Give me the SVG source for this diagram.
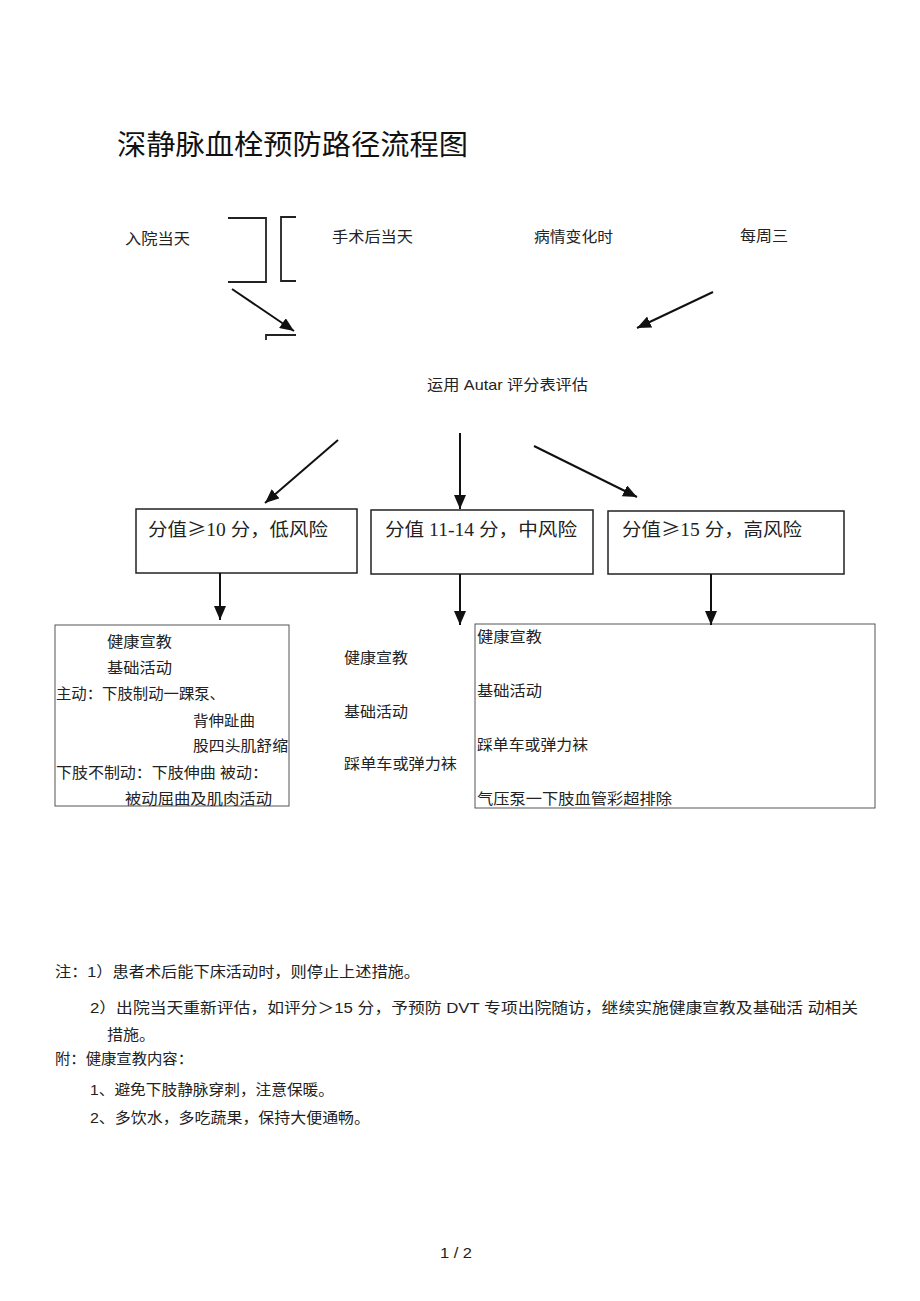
<svg xmlns="http://www.w3.org/2000/svg" width="920" height="1301" viewBox="0 0 920 1301">
<style>
.t{font-family:"Liberation Sans","Noto Sans CJK SC",sans-serif;font-size:15px;fill:#222}
.s{font-family:"Liberation Serif","Noto Sans CJK SC",serif;font-size:18px;fill:#222}
.cj{font-family:"Noto Sans CJK SC",sans-serif}
.h{font-family:"Liberation Serif","Noto Sans CJK SC",serif;font-size:28px;fill:#111}
.box{fill:none;stroke:#222;stroke-width:1.5}
.tbox{fill:none;stroke:#555;stroke-width:1}
.ln{fill:none;stroke:#222;stroke-width:1.8}
.arr{fill:none;stroke:#111;stroke-width:2;marker-end:url(#ah)}
</style>
<defs>
<marker id="ah" markerUnits="userSpaceOnUse" markerWidth="14" markerHeight="12" refX="14" refY="6" orient="auto">
<path d="M0,0 L14,6 L0,12 z" fill="#111"/>
</marker>
</defs>
<rect width="920" height="1301" fill="#fff"/>
<text id="title" class="h" x="117" y="155" textLength="351" lengthAdjust="spacingAndGlyphs">深静脉血栓预防路径流程图</text>

<g id="n_admit"><text class="t" x="125" y="244" textLength="65" lengthAdjust="spacingAndGlyphs">入院当天</text></g>
<g id="n_postop"><text class="t" x="332" y="242" textLength="81" lengthAdjust="spacingAndGlyphs">手术后当天</text></g>
<g id="n_change"><text class="t" x="534" y="242" textLength="79" lengthAdjust="spacingAndGlyphs">病情变化时</text></g>
<g id="n_wed"><text class="t" x="740" y="241" textLength="48" lengthAdjust="spacingAndGlyphs">每周三</text></g>

<g id="brackets">
<path class="ln" d="M228,218 H266 V282 H228"/>
<path class="ln" d="M296,217 H281 V281 H296"/>
<path class="ln" d="M266,340 V335 H296"/>
</g>

<g id="n_autar"><text class="t" x="427" y="390" textLength="161" lengthAdjust="spacingAndGlyphs">运用 Autar 评分表评估</text></g>

<g id="n_low">
<rect class="box" x="136" y="509" width="221" height="64"/>
<text class="s" x="148" y="536" textLength="180" lengthAdjust="spacingAndGlyphs">分值<tspan class="cj">≥</tspan>10 分，低风险</text>
</g>
<g id="n_mid">
<rect class="box" x="371" y="510" width="222" height="64"/>
<text class="s" x="385" y="536" textLength="192" lengthAdjust="spacingAndGlyphs">分值 11-14 分，中风险</text>
</g>
<g id="n_high">
<rect class="box" x="608" y="511" width="236" height="63"/>
<text class="s" x="622" y="536" textLength="180" lengthAdjust="spacingAndGlyphs">分值<tspan class="cj">≥</tspan>15 分，高风险</text>
</g>

<g id="n_lowact">
<rect class="tbox" x="55" y="625" width="234" height="181"/>
<text class="t" x="107" y="647" textLength="65" lengthAdjust="spacingAndGlyphs">健康宣教</text>
<text class="t" x="107" y="673" textLength="65" lengthAdjust="spacingAndGlyphs">基础活动</text>
<text class="t" x="56" y="699" textLength="169" lengthAdjust="spacingAndGlyphs">主动：下肢制动一踝泵、</text>
<text class="t" x="193" y="726" textLength="62" lengthAdjust="spacingAndGlyphs">背伸趾曲</text>
<text class="t" x="193" y="751" textLength="95" lengthAdjust="spacingAndGlyphs">股四头肌舒缩</text>
<text class="t" x="56" y="778" textLength="212" lengthAdjust="spacingAndGlyphs">下肢不制动：下肢伸曲 被动：</text>
<text class="t" x="125" y="804" textLength="147" lengthAdjust="spacingAndGlyphs">被动屈曲及肌肉活动</text>
</g>

<g id="n_midact">
<text class="t" x="344" y="663" textLength="64" lengthAdjust="spacingAndGlyphs">健康宣教</text>
<text class="t" x="344" y="717" textLength="64" lengthAdjust="spacingAndGlyphs">基础活动</text>
<text class="t" x="344" y="769" textLength="113" lengthAdjust="spacingAndGlyphs">踩单车或弹力袜</text>
</g>

<g id="n_highact">
<rect class="tbox" x="475" y="624" width="400" height="184"/>
<text class="t" x="477" y="642" textLength="65" lengthAdjust="spacingAndGlyphs">健康宣教</text>
<text class="t" x="477" y="696" textLength="65" lengthAdjust="spacingAndGlyphs">基础活动</text>
<text class="t" x="477" y="750" textLength="111" lengthAdjust="spacingAndGlyphs">踩单车或弹力袜</text>
<text class="t" x="477" y="804" textLength="195" lengthAdjust="spacingAndGlyphs">气压泵一下肢血管彩超排除</text>
</g>

<g id="connectors">
<line class="arr" x1="232" y1="289" x2="294" y2="331"/>
<line class="arr" x1="713" y1="292" x2="637" y2="328"/>
<line class="arr" x1="338" y1="440" x2="265" y2="503"/>
<line class="arr" x1="460" y1="433" x2="460" y2="509"/>
<line class="arr" x1="534" y1="446" x2="637" y2="497"/>
<line class="arr" x1="220" y1="573" x2="220" y2="620"/>
<line class="arr" x1="460" y1="574" x2="460" y2="625"/>
<line class="arr" x1="711" y1="574" x2="711" y2="625"/>
</g>

<g id="notes">
<text class="t" x="55" y="977" textLength="365" lengthAdjust="spacingAndGlyphs">注：1）患者术后能下床活动时，则停止上述措施。</text>
<text class="t" x="90" y="1013" textLength="768" lengthAdjust="spacingAndGlyphs">2）出院当天重新评估，如评分＞15 分，予预防 DVT 专项出院随访，继续实施健康宣教及基础活 动相关</text>
<text class="t" x="107" y="1040" textLength="48" lengthAdjust="spacingAndGlyphs">措施。</text>
<text class="t" x="55" y="1064" textLength="138" lengthAdjust="spacingAndGlyphs">附：健康宣教内容：</text>
<text class="t" x="90" y="1095" textLength="244" lengthAdjust="spacingAndGlyphs">1、避免下肢静脉穿刺，注意保暖。</text>
<text class="t" x="90" y="1123" textLength="280" lengthAdjust="spacingAndGlyphs">2、多饮水，多吃蔬果，保持大便通畅。</text>
</g>
<text id="page" class="t" x="440" y="1258" textLength="32" lengthAdjust="spacingAndGlyphs">1 / 2</text>
</svg>
